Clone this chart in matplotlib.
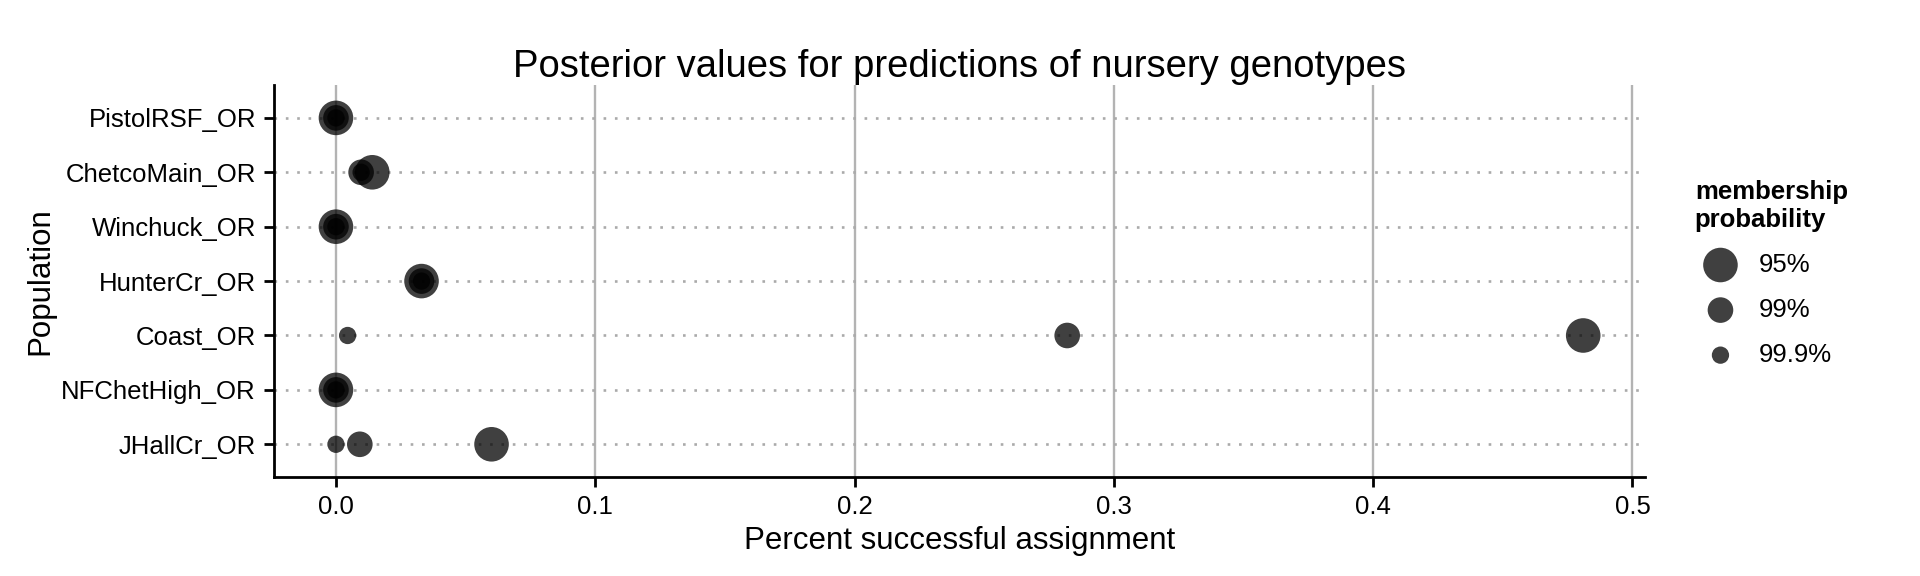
import matplotlib
matplotlib.use("Agg")
import matplotlib.pyplot as plt

plt.rcParams["font.family"] = ["Liberation Sans", "DejaVu Sans"]

# populations, top to bottom
populations = [
    "PistolRSF_OR",
    "ChetcoMain_OR",
    "Winchuck_OR",
    "HunterCr_OR",
    "Coast_OR",
    "NFChetHigh_OR",
    "JHallCr_OR",
]

# percent successful assignment per membership threshold
assign_95 = [0.0, 0.014, 0.0, 0.033, 0.481, 0.0, 0.060]
assign_99 = [0.0, 0.0097, 0.0, 0.033, 0.282, 0.0, 0.0092]
assign_999 = [0.0, 0.0097, 0.0, 0.033, 0.0045, 0.0, 0.0]

levels = ["95%", "99%", "99.9%"]
sizes = [620, 340, 155]

x_ticks = [0.0, 0.1, 0.2, 0.3, 0.4, 0.5]

fig = plt.figure(figsize=(19.2, 5.76), dpi=100)
ax = fig.add_axes([0.1427, 0.172, 0.7143, 0.680])

y_pos = list(range(len(populations)))[::-1]

# =========================
# GRID
# =========================
for xt in x_ticks:
    ax.axvline(xt, color="#b3b3b3", lw=1.7, zorder=0)
for y in y_pos:
    ax.axhline(y, color="#aaaaaa", lw=1.9, ls=(0, (1, 3.3)), zorder=0)

# =========================
# POINTS
# =========================
handles = []
for vals, size, lab in zip([assign_95, assign_99, assign_999], sizes, levels):
    h = ax.scatter(
        vals,
        y_pos,
        s=size,
        color="black",
        alpha=0.75,
        edgecolors="none",
        label=lab,
        zorder=3
    )
    handles.append(h)

ax.set_xlim(-0.0239, 0.505)
ax.set_ylim(-0.6, 6.6)
ax.set_xticks(x_ticks)
ax.set_xticklabels([f"{v:.1f}" for v in x_ticks])
ax.set_yticks(y_pos)
ax.set_yticklabels(populations)

ax.tick_params(axis="both", labelsize=18.5, length=7, width=2, color="black",
               pad=6)

for side in ["top", "right"]:
    ax.spines[side].set_visible(False)
for side in ["left", "bottom"]:
    ax.spines[side].set_linewidth(2)

ax.set_xlabel("Percent successful assignment", fontsize=22.5, labelpad=5)
ax.set_ylabel("Population", fontsize=22.5, labelpad=4)
ax.set_title("Posterior values for predictions of nursery genotypes",
             fontsize=27.5, pad=6)

leg = ax.legend(
    handles=handles,
    title="membership\nprobability",
    loc="upper left",
    bbox_to_anchor=(0.876, 0.71),
    bbox_transform=fig.transFigure,
    frameon=False,
    fontsize=18.5,
    title_fontproperties={"weight": "bold", "size": 18.5},
    labelspacing=0.82,
    handletextpad=0.5,
    borderpad=0
)
leg._legend_box.align = "left"

fig.savefig("out.png", dpi=100)
